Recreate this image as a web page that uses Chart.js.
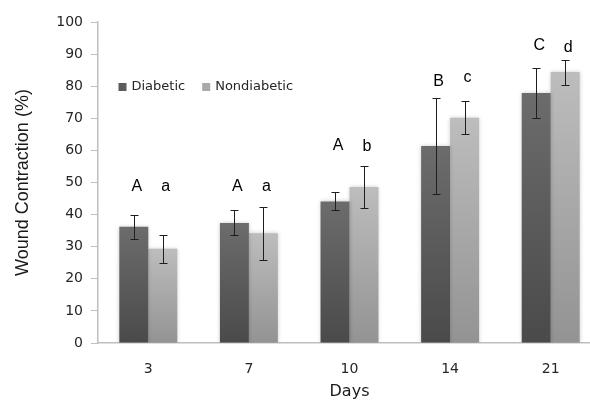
<!DOCTYPE html>
<html>
<head>
<meta charset="utf-8">
<script src="https://cdn.jsdelivr.net/npm/chart.js@4/dist/chart.umd.min.js"></script>
<style>
  html, body { margin: 0; padding: 0; background: #ffffff; overflow: hidden; width: 590px; height: 400px; }
  #wrap { width: 601px; height: 400px; }
</style>
</head>
<body>
<div id="wrap"><canvas id="c" width="601" height="400"></canvas></div>
<script>
// ---- data ----
const days = ['3', '7', '10', '14', '21'];
const diabetic = [36.2, 37.4, 44.1, 61.4, 77.9];
const diabeticErr = [3.8, 3.9, 2.8, 14.9, 7.7];
const nondiabetic = [29.4, 34.2, 48.6, 70.2, 84.4];
const nondiabeticErr = [4.4, 8.3, 6.6, 5.1, 3.9];
const diabeticLetters = ['A', 'A', 'A', 'B', 'C'];
const nondiabeticLetters = ['a', 'a', 'b', 'c', 'd'];
const diabeticLetterY = [47.2, 47.2, 60.2, 80.2, 91.2];
const nondiabeticLetterY = [47.2, 47.2, 59.9, 81.3, 90.8];
const yTicks = [0, 10, 20, 30, 40, 50, 60, 70, 80, 90, 100];

const errors = [diabeticErr, nondiabeticErr];
const letters = [diabeticLetters, nondiabeticLetters];
const letterY = [diabeticLetterY, nondiabeticLetterY];

function barGradient(top, bottom) {
  return (ctx) => {
    const chart = ctx.chart;
    if (!chart.chartArea || ctx.type !== 'data') return bottom;
    const ys = chart.scales.y;
    const yTop = ys.getPixelForValue(ctx.raw);
    const yBot = ys.getPixelForValue(0);
    if (!isFinite(yTop) || yTop === yBot) return bottom;
    const g = chart.ctx.createLinearGradient(0, yTop, 0, yBot);
    g.addColorStop(0, top);
    g.addColorStop(1, bottom);
    return g;
  };
}

const legendColors = ['#5b5b5b', '#a9a9a9'];

const decorPlugin = {
  id: 'decor',
  beforeDatasetsDraw(chart) {
    const c = chart.ctx;
    c.save();
    c.shadowColor = 'rgba(0,0,0,0.2)';
    c.shadowBlur = 4;
    c.shadowOffsetX = 0;
    c.shadowOffsetY = 0;
  },
  afterDatasetsDraw(chart) {
    const c = chart.ctx;
    c.restore();
    const ys = chart.scales.y;
    // error bars
    c.save();
    c.strokeStyle = '#1e1e1e';
    c.lineWidth = 1;
    chart.data.datasets.forEach((ds, di) => {
      const meta = chart.getDatasetMeta(di);
      meta.data.forEach((el, i) => {
        const v = ds.data[i], e = errors[di][i];
        const x = Math.round(el.x) + 0.5;
        const y1 = Math.round(ys.getPixelForValue(v + e)) + 0.5;
        const y2 = Math.round(ys.getPixelForValue(v - e)) + 0.5;
        c.beginPath();
        c.moveTo(x, y1); c.lineTo(x, y2);
        c.moveTo(x - 4, y1); c.lineTo(x + 4, y1);
        c.moveTo(x - 4, y2); c.lineTo(x + 4, y2);
        c.stroke();
      });
    });
    c.restore();
    // significance letters
    c.save();
    c.fillStyle = '#000000';
    c.font = '16px "Liberation Sans", Arial, sans-serif';
    c.textAlign = 'center';
    c.textBaseline = 'alphabetic';
    chart.data.datasets.forEach((ds, di) => {
      const meta = chart.getDatasetMeta(di);
      meta.data.forEach((el, i) => {
        c.fillText(letters[di][i], el.x + 3, ys.getPixelForValue(letterY[di][i]));
      });
    });
    c.restore();
  },
  afterDraw(chart) {
    // legend inside the plot area
    const c = chart.ctx;
    const a = chart.chartArea;
    c.save();
    c.font = '13px "DejaVu Sans", sans-serif';
    c.textBaseline = 'middle';
    c.textAlign = 'left';
    let x = a.left + 20.5;
    const yMid = a.top + 65;
    chart.data.datasets.forEach((ds, di) => {
      c.fillStyle = legendColors[di];
      c.fillRect(x, yMid - 4, 8, 8);
      c.fillStyle = '#262626';
      c.fillText(ds.label, x + 13, yMid);
      x += 13 + c.measureText(ds.label).width + 17;
    });
    c.restore();
  }
};

new Chart(document.getElementById('c'), {
  type: 'bar',
  data: {
    labels: days,
    datasets: [
      {
        label: 'Diabetic',
        data: diabetic,
        backgroundColor: barGradient('#6c6c6c', '#4a4a4a'),
        borderWidth: 0,
        categoryPercentage: 0.576,
        barPercentage: 1.0
      },
      {
        label: 'Nondiabetic',
        data: nondiabetic,
        backgroundColor: barGradient('#bdbdbd', '#939393'),
        borderWidth: 0,
        categoryPercentage: 0.576,
        barPercentage: 1.0
      }
    ]
  },
  options: {
    responsive: false,
    animation: false,
    devicePixelRatio: 1,
    layout: { padding: { left: 0, right: 0, top: 22, bottom: 0 } },
    plugins: {
      legend: { display: false },
      tooltip: { enabled: false }
    },
    scales: {
      x: {
        grid: { display: false },
        border: { display: true, color: '#bfbfbf', width: 1.5 },
        ticks: {
          color: '#262626',
          font: { family: '"DejaVu Sans", sans-serif', size: 14 },
          padding: 10
        },
        title: {
          display: true,
          text: 'Days',
          color: '#1a1a1a',
          font: { family: '"DejaVu Sans", sans-serif', size: 16, lineHeight: 1 },
          padding: { top: 0, bottom: 0 }
        },
        afterFit(scale) { scale.height = 57; }
      },
      y: {
        min: 0,
        max: 100,
        afterBuildTicks(scale) { scale.ticks = yTicks.map(v => ({ value: v })); },
        grid: { drawOnChartArea: false, drawTicks: true, tickLength: 7, color: '#bfbfbf' },
        border: { display: true, color: '#bfbfbf', width: 1.5 },
        ticks: {
          color: '#262626',
          font: { family: '"DejaVu Sans", sans-serif', size: 14 },
          padding: 8
        },
        title: {
          display: true,
          text: 'Wound Contraction (%)',
          color: '#1a1a1a',
          font: { family: '"Liberation Sans", Arial, sans-serif', size: 18 },
          padding: { top: 12, bottom: 0 }
        },
        afterFit(scale) { scale.width = 98; }
      }
    }
  },
  plugins: [decorPlugin]
});
</script>
</body>
</html>
